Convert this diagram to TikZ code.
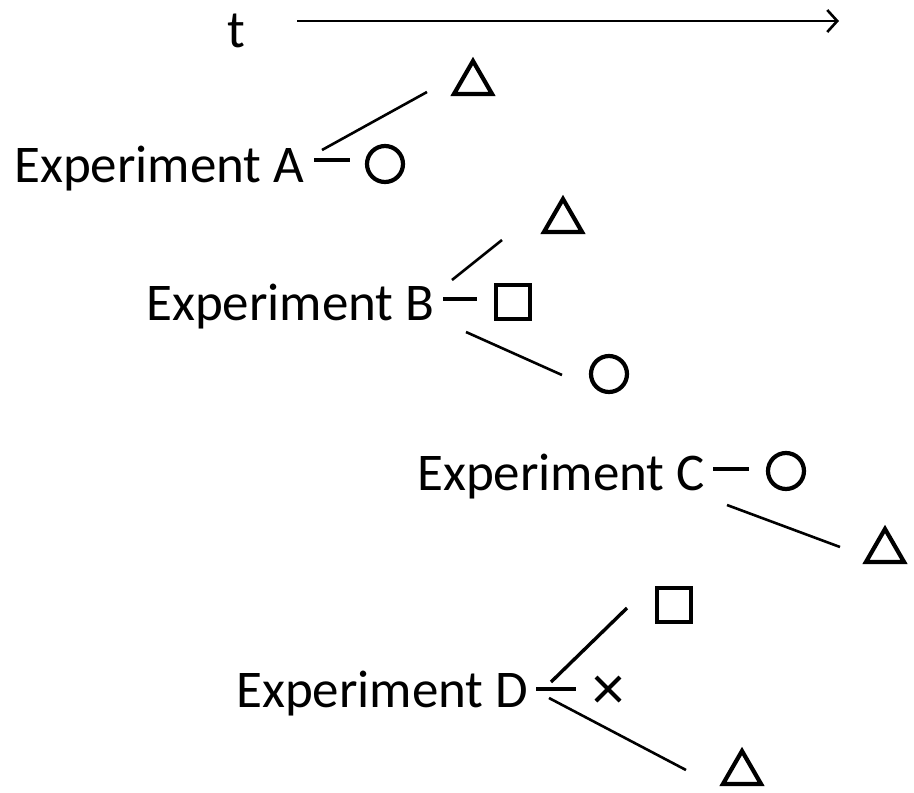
\documentclass[tikz,border=0pt]{standalone}
\usepackage{fontspec}
\setmainfont{Carlito}
\usetikzlibrary{shapes.geometric,shapes.misc,arrows.meta}
\begin{document}
\begin{tikzpicture}[x=1pt,y=-1pt,
  lbl/.style={anchor=base west,inner sep=0pt,font=\fontsize{53}{60}\selectfont},
  circ/.style={circle,draw,line width=4.2pt,minimum size=36pt,inner sep=0pt},
  tri/.style={regular polygon,regular polygon sides=3,draw,line width=4.2pt,minimum size=44pt,inner sep=0pt},
  sq/.style={rectangle,draw,line width=4.2pt,minimum size=34pt,inner sep=0pt},
  xmark/.style={cross out,draw,line width=4pt,minimum size=20pt,inner sep=0pt},
  dashln/.style={line width=4pt},
  conn/.style={line width=2.6pt}]
\useasboundingbox (0,0) rectangle (914,793);
% time axis
\node[lbl] (t) at (227,47) {t};
\coordinate (ta) at (297,21);
\coordinate (tb) at (839,21);
\draw[line width=2.6pt,-{Straight Barb[length=10pt,width=22pt,line width=2.6pt]}] (ta) -- (tb);
% Experiment A
\node[lbl] (A) at (14,182) {Experiment A};
\node[circ] (cA) at (385,164) {};
\node[tri] (tA) at (473,83) {};
\coordinate (dA1) at (314,160); \coordinate (dA2) at (350,160);
\draw[dashln] (dA1) -- (dA2);
\coordinate (lA1) at (322,150); \coordinate (lA2) at (427,92);
\draw[conn] (lA1) -- (lA2);
% Experiment B
\node[lbl] (B) at (146,320) {Experiment B};
\node[sq] (sB) at (513,302) {};
\node[tri] (tB) at (563,221) {};
\node[circ] (cB) at (609,374) {};
\coordinate (dB1) at (443,299); \coordinate (dB2) at (477,299);
\draw[dashln] (dB1) -- (dB2);
\coordinate (lB1) at (452,280); \coordinate (lB2) at (502,240);
\draw[conn] (lB1) -- (lB2);
\coordinate (lB3) at (466,332); \coordinate (lB4) at (562,375);
\draw[conn] (lB3) -- (lB4);
% Experiment C
\node[lbl] (C) at (417,490) {Experiment C};
\node[circ] (cC) at (786,471) {};
\node[tri] (tC) at (885,551) {};
\coordinate (dC1) at (713,469); \coordinate (dC2) at (749,469);
\draw[dashln] (dC1) -- (dC2);
\coordinate (lC1) at (727,505); \coordinate (lC2) at (840,547);
\draw[conn] (lC1) -- (lC2);
% Experiment D
\node[lbl] (D) at (236,707) {Experiment D};
\node[xmark] (xD) at (608,689) {};
\node[sq] (sD) at (674,605) {};
\node[tri] (tD) at (742,773) {};
\coordinate (dD1) at (536,689); \coordinate (dD2) at (576,689);
\draw[dashln] (dD1) -- (dD2);
\coordinate (lD1) at (551,682); \coordinate (lD2) at (627,608);
\draw[line width=3.4pt] (lD1) -- (lD2);
\coordinate (lD3) at (549,698); \coordinate (lD4) at (686,770);
\draw[conn] (lD3) -- (lD4);
\end{tikzpicture}
\end{document}
